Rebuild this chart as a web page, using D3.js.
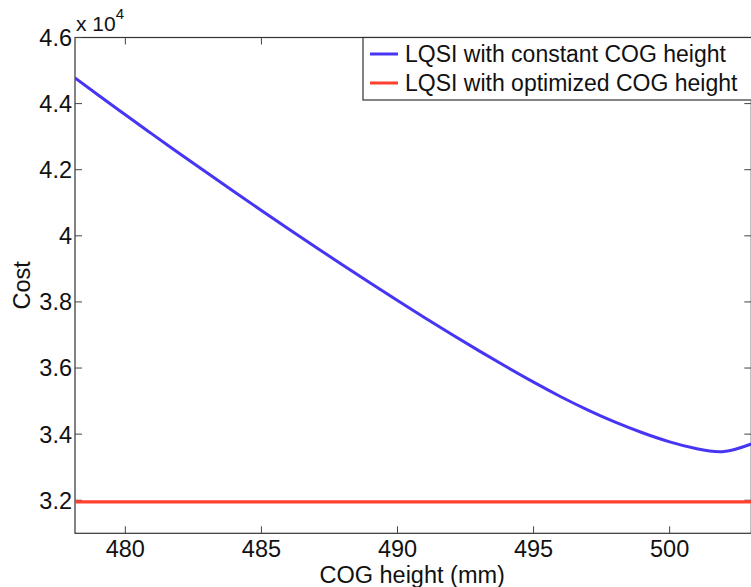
<!DOCTYPE html>
<html>
<head>
<meta charset="utf-8">
<script src="https://cdn.jsdelivr.net/npm/d3@7"></script>
<style>
  html, body { margin: 0; padding: 0; background: #fff; }
  svg { display: block; }
  text { font-family: "Liberation Sans", Arial, Helvetica, sans-serif; fill: #111; }
</style>
</head>
<body>
<svg id="chart" width="751" height="587"></svg>
<script>
// COG height samples (mm) and the resulting LQSI cost
const cogHeight = [478.15, 479, 480, 481, 482, 483, 484, 485, 486, 487, 488, 489, 490,
                   491, 492, 493, 494, 495, 496, 497, 498, 499, 500, 501, 502, 503];
const costConstant = [44775, 44261, 43661, 43069, 42484, 41906, 41334, 40768, 40208, 39655,
                      39109, 38571, 38042, 37523, 37015, 36519, 36037, 35572, 35132, 34727,
                      34362, 34042, 33767, 33557, 33472, 33702];
const costOptimized = 31950;   // constant over the whole range

const xTicks = [480, 485, 490, 495, 500];
const yTicks = [32000, 34000, 36000, 38000, 40000, 42000, 44000, 46000];
const seriesNames = ["LQSI with constant COG height", "LQSI with optimized COG height"];
const seriesColors = ["#4636f4", "#ff4130"];

const svg = d3.select("#chart");
const plotL = 75, plotR = 751.3, plotT = 37.5, plotB = 533.3;
const x = d3.scaleLinear().domain([478.15, 503]).range([plotL, plotR]);
const y = d3.scaleLinear().domain([31000, 46000]).range([plotB, plotT]);
const fs = 23.5;
const legendFs = 23;
const tickLen = 7;

// plot box
svg.append("rect")
  .attr("x", plotL).attr("y", plotT)
  .attr("width", plotR - plotL).attr("height", plotB - plotT)
  .attr("fill", "none").attr("stroke", "#333").attr("stroke-width", 1.2);

// inward ticks on all four sides
const tickG = svg.append("g").attr("stroke", "#444").attr("stroke-width", 1);
xTicks.forEach(v => {
  tickG.append("line").attr("x1", x(v)).attr("x2", x(v)).attr("y1", plotB).attr("y2", plotB - tickLen);
  tickG.append("line").attr("x1", x(v)).attr("x2", x(v)).attr("y1", plotT).attr("y2", plotT + tickLen);
});
yTicks.forEach(v => {
  tickG.append("line").attr("x1", plotL).attr("x2", plotL + tickLen).attr("y1", y(v)).attr("y2", y(v));
  tickG.append("line").attr("x1", plotR).attr("x2", plotR - tickLen).attr("y1", y(v)).attr("y2", y(v));
});

// tick labels
const fmtY = v => d3.format("~g")(+(v / 1e4).toFixed(1));
svg.append("g").selectAll("text").data(yTicks).join("text")
  .attr("x", plotL - 3).attr("y", d => y(d) + fs * 0.36)
  .attr("text-anchor", "end").attr("font-size", fs)
  .text(fmtY);
svg.append("g").selectAll("text").data(xTicks).join("text")
  .attr("x", d => x(d)).attr("y", 557)
  .attr("text-anchor", "middle").attr("font-size", fs)
  .text(d => d);

// exponent marker
const expo = svg.append("text").attr("x", 76).attr("y", 31).attr("font-size", 21);
expo.append("tspan").text("x 10");
expo.append("tspan").attr("dy", -12).attr("font-size", 15).text("4");

// axis titles
svg.append("text").attr("x", (plotL + plotR) / 2 - 1).attr("y", 583)
  .attr("text-anchor", "middle").attr("font-size", fs).text("COG height (mm)");
svg.append("text")
  .attr("transform", `translate(30,${(plotT + plotB) / 2}) rotate(-90)`)
  .attr("text-anchor", "middle").attr("font-size", fs).text("Cost");

// series
svg.append("clipPath").attr("id", "plotClip")
  .append("rect").attr("x", plotL).attr("y", plotT).attr("width", plotR - plotL).attr("height", plotB - plotT);

const line = d3.line().x((d, i) => x(cogHeight[i])).y(d => y(d)).curve(d3.curveNatural);
svg.append("path")
  .datum(costConstant)
  .attr("clip-path", "url(#plotClip)")
  .attr("d", line)
  .attr("fill", "none").attr("stroke", seriesColors[0]).attr("stroke-width", 3);

svg.append("line")
  .attr("x1", x(cogHeight[0])).attr("x2", x(cogHeight[cogHeight.length - 1]))
  .attr("y1", y(costOptimized)).attr("y2", y(costOptimized))
  .attr("stroke", seriesColors[1]).attr("stroke-width", 3.2);

// legend
const lg = svg.append("g");
lg.append("rect").attr("x", 363).attr("y", plotT).attr("width", 400).attr("height", 62.5)
  .attr("fill", "#fff").attr("stroke", "#333").attr("stroke-width", 1.2);
seriesNames.forEach((name, i) => {
  const cy = 54 + i * 29;
  lg.append("line").attr("x1", 370).attr("x2", 398).attr("y1", cy).attr("y2", cy)
    .attr("stroke", seriesColors[i]).attr("stroke-width", 3);
  lg.append("text").attr("x", 405).attr("y", cy + legendFs * 0.36).attr("font-size", legendFs).text(name);
});
</script>
</body>
</html>
